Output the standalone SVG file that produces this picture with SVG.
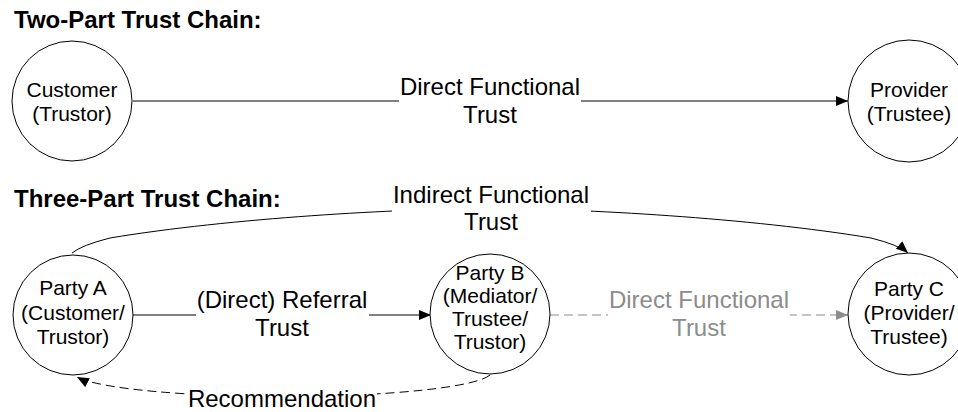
<svg xmlns="http://www.w3.org/2000/svg" width="958" height="412" viewBox="0 0 958 412">
  <defs>
    <style>
      .title { font-family: "Liberation Sans", Arial, sans-serif; font-weight: bold; font-size: 24px; fill: #000; }
      .node circle { fill: #fff; stroke: #000; stroke-width: 1; }
      .node text { font-family: "Liberation Sans", Arial, sans-serif; font-size: 21px; fill: #000; text-anchor: middle; }
      .edge { fill: none; stroke: #000; stroke-width: 1; }
      .dash { stroke-dasharray: 9 5; }
      .grey { stroke: #8c8c8c; }
      .label { font-family: "Liberation Sans", Arial, sans-serif; font-size: 24px; fill: #000; text-anchor: middle; }
      .label.grey { fill: #8c8c8c; stroke: none; }
      .bg { fill: #fff; }
    </style>
    <marker id="arrow" markerUnits="userSpaceOnUse" markerWidth="12" markerHeight="10" refX="12" refY="5" orient="auto">
      <path d="M0,0 L12,5 L0,10 z" fill="#000"/>
    </marker>
    <marker id="arrow-grey" markerUnits="userSpaceOnUse" markerWidth="12" markerHeight="10" refX="12" refY="5" orient="auto">
      <path d="M0,0 L12,5 L0,10 z" fill="#8c8c8c"/>
    </marker>
  </defs>

  <rect width="958" height="412" fill="#fff"/>

  <text class="title" x="14" y="28">Two-Part Trust Chain:</text>
  <text class="title" x="14" y="207">Three-Part Trust Chain:</text>

  <g id="connectors">
    <!-- two-part chain -->
    <path class="edge" d="M133,101 L848,101" marker-end="url(#arrow)"/>
    <!-- three-part chain -->
    <path class="edge" d="M72,253 Q82,245 110,238 C230,218 400,208.5 490.5,208.5 C581,208.5 751,218 871,238 Q899,245 908,253" marker-end="url(#arrow)"/>
    <path class="edge" d="M133,315 L431,315" marker-end="url(#arrow)"/>
    <path class="edge dash grey" d="M550,315 L848,315" marker-end="url(#arrow-grey)"/>
    <path class="edge dash" d="M490,375 A210,25 0 0 1 77,377" marker-end="url(#arrow)"/>

    <!-- labels with knock-out backgrounds -->
    <rect class="bg" x="399" y="76" width="182" height="52"/>
    <text class="label" x="490" y="95">Direct Functional</text>
    <text class="label" x="490" y="123">Trust</text>

    <rect class="bg" x="392" y="184" width="199" height="52"/>
    <text class="label" x="491" y="203">Indirect Functional</text>
    <text class="label" x="491" y="230">Trust</text>

    <rect class="bg" x="196" y="290" width="173" height="52"/>
    <text class="label" x="282" y="308">(Direct) Referral</text>
    <text class="label" x="282" y="336">Trust</text>

    <rect class="bg" x="608" y="290" width="182" height="52"/>
    <text class="label grey" x="699" y="308">Direct Functional</text>
    <text class="label grey" x="699" y="336">Trust</text>

    <rect class="bg" x="188" y="386" width="189" height="26"/>
    <text class="label" x="282" y="407">Recommendation</text>
  </g>

  <g id="customer" class="node">
    <circle cx="72" cy="101" r="60"/>
    <text x="72" y="97">Customer</text>
    <text x="72" y="121">(Trustor)</text>
  </g>

  <g id="provider" class="node">
    <circle cx="909" cy="101" r="61"/>
    <text x="909" y="97">Provider</text>
    <text x="909" y="121">(Trustee)</text>
  </g>

  <g id="party-a" class="node">
    <circle cx="73" cy="315" r="60"/>
    <text x="73" y="295">Party A</text>
    <text x="73" y="320">(Customer/</text>
    <text x="73" y="344">Trustor)</text>
  </g>

  <g id="party-b" class="node">
    <circle cx="490" cy="314" r="60"/>
    <text x="490" y="280">Party B</text>
    <text x="490" y="303">(Mediator/</text>
    <text x="490" y="326">Trustee/</text>
    <text x="490" y="349">Trustor)</text>
  </g>

  <g id="party-c" class="node">
    <circle cx="909" cy="314" r="61"/>
    <text x="909" y="296">Party C</text>
    <text x="909" y="320">(Provider/</text>
    <text x="909" y="344">Trustee)</text>
  </g>
</svg>
